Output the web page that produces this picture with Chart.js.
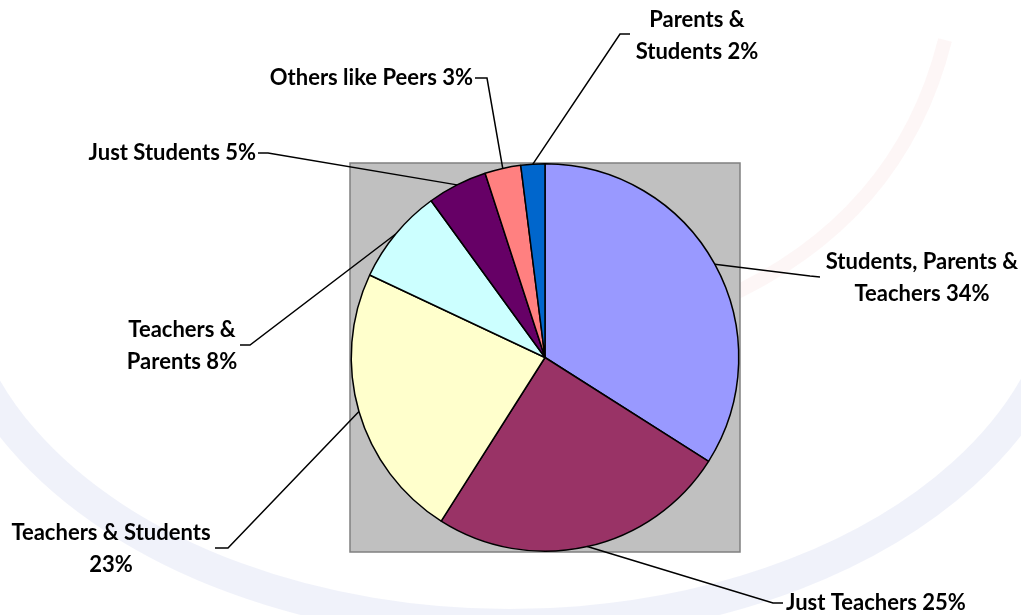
<!DOCTYPE html>
<html>
<head>
<meta charset="utf-8">
<script src="https://cdn.jsdelivr.net/npm/chart.js@4.4.1/dist/chart.umd.min.js"></script>
<style>
  html, body { margin: 0; padding: 0; background: #fff; }
  #wrap { width: 1021px; height: 615px; position: relative; }
</style>
</head>
<body>
<div id="wrap"><canvas id="pie"></canvas></div>
<script>
// datos del grafico
const categories = [
  'Students, Parents & Teachers',
  'Just Teachers',
  'Teachers & Students',
  'Teachers & Parents',
  'Just Students',
  'Others like Peers',
  'Parents & Students'
];
const percents = [34, 25, 23, 8, 5, 3, 2];
// texto de cada etiqueta, en lineas
const labelLines = [
  ['Students, Parents &', 'Teachers 34%'],
  ['Just Teachers 25%'],
  ['Teachers & Students', '23%'],
  ['Teachers &', 'Parents 8%'],
  ['Just Students 5%'],
  ['Others like Peers 3%'],
  ['Parents &', 'Students 2%']
];
const sliceColors = ['#9999FF', '#993366', '#FFFFCC', '#CCFFFF', '#660066', '#FF8080', '#0066CC'];

// donde va cada etiqueta (codo de la linea, fin de la linea, texto)
const labelLayout = [
  { elbow: [810, 276], end: [820, 277], tx: 922, ty: 262, align: 'center' },
  { elbow: [773, 603], end: [783, 603], tx: 786, ty: 603, align: 'left' },
  { elbow: [228, 548], end: [215, 548], tx: 111, ty: 533, align: 'center' },
  { elbow: [250, 345], end: [240, 345], tx: 182, ty: 330, align: 'center' },
  { elbow: [268, 153], end: [258, 153], tx: 256, ty: 153, align: 'right' },
  { elbow: [487, 78], end: [475, 78], tx: 473, ty: 78, align: 'right' },
  { elbow: [620, 34], end: [630, 34], tx: 697, ty: 20, align: 'center' }
];
const lineHeight = 32;

// marca de agua tenue del fondo
const watermark = {
  id: 'watermark',
  beforeDraw(chart) {
    const { ctx } = chart;
    ctx.save();
    ctx.strokeStyle = 'rgba(200, 210, 236, 0.28)';
    ctx.lineWidth = 32;
    ctx.beginPath();
    ctx.ellipse(510, 259, 560, 366, 0, 0.08 * Math.PI, 0.92 * Math.PI);
    ctx.stroke();
    ctx.strokeStyle = 'rgba(240, 170, 170, 0.10)';
    ctx.lineWidth = 14;
    ctx.beginPath();
    ctx.moveTo(945, 40);
    ctx.quadraticCurveTo(900, 220, 720, 300);
    ctx.stroke();
    ctx.restore();
  }
};

// caja gris detras del pastel
const plotBox = {
  id: 'plotBox',
  beforeDatasetsDraw(chart) {
    const { ctx, chartArea: a } = chart;
    ctx.save();
    ctx.fillStyle = '#C0C0C0';
    ctx.fillRect(a.left, a.top, a.right - a.left, a.bottom - a.top);
    ctx.strokeStyle = '#808080';
    ctx.lineWidth = 1.5;
    ctx.strokeRect(a.left, a.top, a.right - a.left, a.bottom - a.top);
    ctx.restore();
  }
};

// etiquetas con lineas guia
const leaderLabels = {
  id: 'leaderLabels',
  afterDatasetsDraw(chart) {
    const { ctx } = chart;
    const arcs = chart.getDatasetMeta(0).data;
    ctx.save();
    ctx.font = 'bold 22px Lato, "Liberation Sans", sans-serif';
    ctx.fillStyle = '#000';
    ctx.strokeStyle = '#000';
    ctx.lineWidth = 1.5;
    ctx.textBaseline = 'middle';
    arcs.forEach((arc, i) => {
      const p = arc.getProps(['x', 'y', 'startAngle', 'endAngle', 'outerRadius'], true);
      const mid = (p.startAngle + p.endAngle) / 2;
      const sx = p.x + Math.cos(mid) * p.outerRadius;
      const sy = p.y + Math.sin(mid) * p.outerRadius;
      const L = labelLayout[i];
      ctx.beginPath();
      ctx.moveTo(sx, sy);
      ctx.lineTo(L.elbow[0], L.elbow[1]);
      ctx.lineTo(L.end[0], L.end[1]);
      ctx.stroke();
      ctx.textAlign = L.align;
      labelLines[i].forEach((t, k) => {
        ctx.fillText(t, L.tx, L.ty + k * lineHeight);
      });
    });
    ctx.restore();
  }
};

const ctx = document.getElementById('pie').getContext('2d');
new Chart(ctx, {
  type: 'pie',
  data: {
    labels: categories,
    datasets: [{
      data: percents,
      backgroundColor: sliceColors,
      borderColor: '#000',
      borderWidth: 1.5
    }]
  },
  options: {
    responsive: true,
    maintainAspectRatio: false,
    animation: false,
    layout: { padding: { left: 350, right: 281, top: 163, bottom: 63 } },
    plugins: {
      legend: { display: false },
      tooltip: { enabled: false }
    }
  },
  plugins: [watermark, plotBox, leaderLabels]
});
</script>
</body>
</html>
